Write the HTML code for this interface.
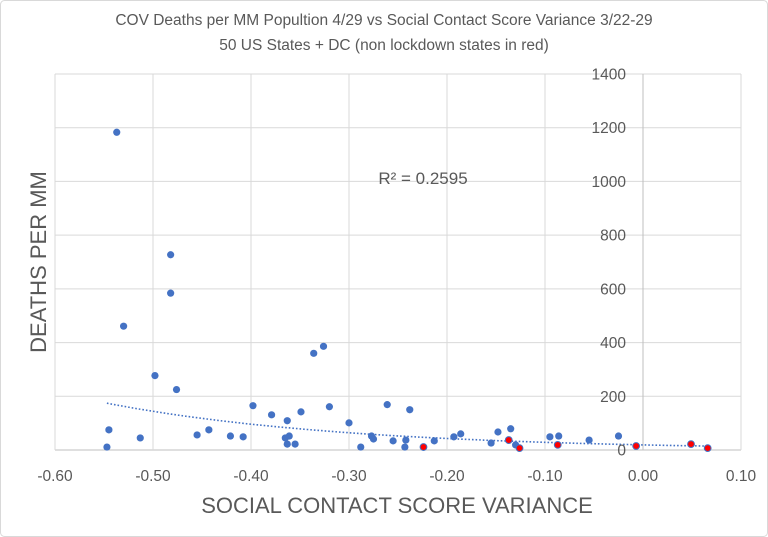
<!DOCTYPE html>
<html><head><meta charset="utf-8"><style>
body{margin:0;background:#fff;}
svg{display:block;font-family:"Liberation Sans",sans-serif;}
</style></head><body>
<svg id="chart" width="768" height="537">
<rect x="0.5" y="0.5" width="767" height="536" rx="4" fill="#fff" stroke="#d9d9d9"/>
<text x="384" y="25" text-anchor="middle" font-size="15.5" fill="#595959">COV Deaths per MM Popultion 4/29 vs Social Contact Score Variance 3/22-29</text>
<text x="384" y="50" text-anchor="middle" font-size="15.5" fill="#595959">50 US States + DC  (non lockdown states in red)</text>
<g id="grid"></g>
<g id="trend"></g>
<g id="pts"></g>
<g id="ticks"></g>
<text x="423" y="184" text-anchor="middle" font-size="17" fill="#595959">R² = 0.2595</text>
<text transform="translate(46,262) rotate(-90)" text-anchor="middle" font-size="22" fill="#595959">DEATHS PER MM</text>
<text x="397" y="513" text-anchor="middle" font-size="22" fill="#595959">SOCIAL CONTACT SCORE VARIANCE</text>
</svg>
<script>
const xTicks=[-0.6,-0.5,-0.4,-0.3,-0.2,-0.1,0,0.1];
const xTickLabels=["-0.60","-0.50","-0.40","-0.30","-0.20","-0.10","0.00","0.10"];
const yTicks=[0,200,400,600,800,1000,1200,1400];
const blueX=[-0.537,-0.482,-0.482,-0.530,-0.498,-0.476,-0.545,-0.547,-0.513,-0.455,-0.443,-0.421,-0.408,-0.398,-0.379,-0.363,-0.365,-0.363,-0.361,-0.355,-0.349,-0.336,-0.326,-0.320,-0.300,-0.288,-0.261,-0.277,-0.275,-0.255,-0.243,-0.242,-0.238,-0.213,-0.193,-0.186,-0.155,-0.148,-0.135,-0.130,-0.095,-0.086,-0.055,-0.025];
const blueY=[1183,727,584,461,277,225,75,11,45,56,75,52,49,165,131,109,45,22,52,22,142,360,386,161,101,11,169,52,41,34,11,37,150,34,49,60,26,67,79,19,49,52,37,52];
const redX=[-0.224,-0.137,-0.126,-0.087,-0.007,0.049,0.066];
const redY=[11,37,7,19,15,22,7];
const NS='http://www.w3.org/2000/svg';
const X0=55,X1=741,Y0=450,Y1=74;
const sx=v=>X0+(v+0.6)/0.7*(X1-X0);
const sy=v=>Y0-v/1400*(Y0-Y1);
function mk(t,a,p){const e=document.createElementNS(NS,t);for(const k in a)e.setAttribute(k,a[k]);p.appendChild(e);return e;}
const grid=document.getElementById('grid'),ticks=document.getElementById('ticks');
yTicks.forEach(v=>{
 const l=mk('line',{x1:X0,x2:X1,y1:sy(v),y2:sy(v),stroke:v===0?'#bfbfbf':'#d9d9d9','stroke-width':1},grid);
 
 
 const t=mk('text',{x:626,y:sy(v)+5.5,'text-anchor':'end','font-size':15.5,fill:'#595959'},ticks);
 t.textContent=v;
 
 
});
xTicks.forEach((v,i)=>{
 const l=mk('line',{x1:sx(v),x2:sx(v),y1:Y1,y2:Y0,stroke:Math.abs(v)<1e-9?'#bfbfbf':'#d9d9d9','stroke-width':1},grid);
 
 
 const t=mk('text',{x:sx(v),y:481,'text-anchor':'middle','font-size':15.5,fill:'#595959'},ticks);
 t.textContent=xTickLabels[i];
 
 
});
// exponential trendline fit (least squares on ln y)
const ax=blueX.concat(redX),ay=blueY.concat(redY);
let n=ax.length,sX=0,sY=0,sXX=0,sXY=0;
for(let i=0;i<n;i++){const ly=Math.log(ay[i]);sX+=ax[i];sY+=ly;sXX+=ax[i]*ax[i];sXY+=ax[i]*ly;}
const b=(n*sXY-sX*sY)/(n*sXX-sX*sX),a=(sY-b*sX)/n;
const xmin=Math.min(...ax),xmax=Math.max(...ax);
let d='';for(let k=0;k<=60;k++){const xv=xmin+(xmax-xmin)*k/60;d+=(k?'L':'M')+sx(xv).toFixed(1)+','+sy(Math.exp(a+b*xv)).toFixed(1);}
const tr=mk('path',{d:d,fill:'none',stroke:'#4472c4','stroke-width':1.6,'stroke-dasharray':'1.6,2'},document.getElementById('trend'));


const pts=document.getElementById('pts');
blueX.forEach((v,i)=>{const c=mk('circle',{cx:sx(v),cy:sy(blueY[i]),r:3.6,fill:'#4472c4'},pts);
 
 });
redX.forEach((v,i)=>{const c=mk('circle',{cx:sx(v),cy:sy(redY[i]),r:3.4,fill:'#ff0000',stroke:'#4472c4','stroke-width':1},pts);
 
 });
</script>
</body></html>
